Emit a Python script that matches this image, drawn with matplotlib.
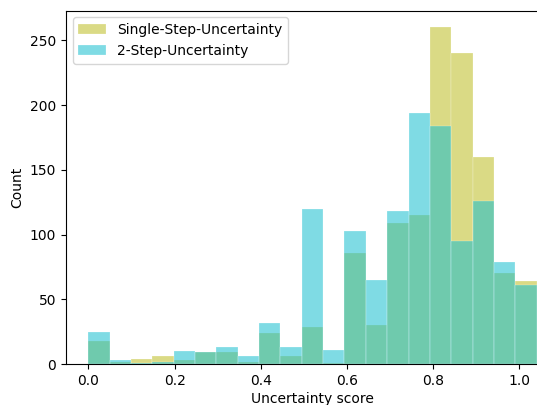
import numpy as np
import matplotlib
matplotlib.use('Agg')
import matplotlib.pyplot as plt

# bin grid of the histograms (21 bins over the score range)
bin_edges = np.linspace(0, 1.04, 22)

# counts per bin
single_step = [18, 2, 4, 6, 3, 9, 9, 2, 24, 6, 29, 1, 86, 30, 109, 115, 260, 240, 160, 70, 64]
two_step = [25, 3, 1, 2, 10, 9, 13, 6, 32, 13, 120, 11, 103, 65, 118, 194, 184, 95, 126, 79, 61]

labels = ['Single-Step-Uncertainty', '2-Step-Uncertainty']
colors = ['tab:olive', 'tab:cyan']

fig = plt.figure(figsize=(5.37, 4.05), dpi=100)
ax = fig.add_axes([0.1229, 0.101, 0.918, 0.873])

#Each series is drawn as a weighted histogram on the shared bin grid
for counts, label, color in zip([single_step, two_step], labels, colors):
    ax.hist(bin_edges[:-1], bins=bin_edges, weights=counts, color=color,
            alpha=0.55, edgecolor='white', linewidth=0.3, label=label)

ax.set_xlabel('Uncertainty score', labelpad=3)
ax.set_ylabel('Count')
ax.legend(loc='upper left')

fig.savefig('out.png', dpi=100)
